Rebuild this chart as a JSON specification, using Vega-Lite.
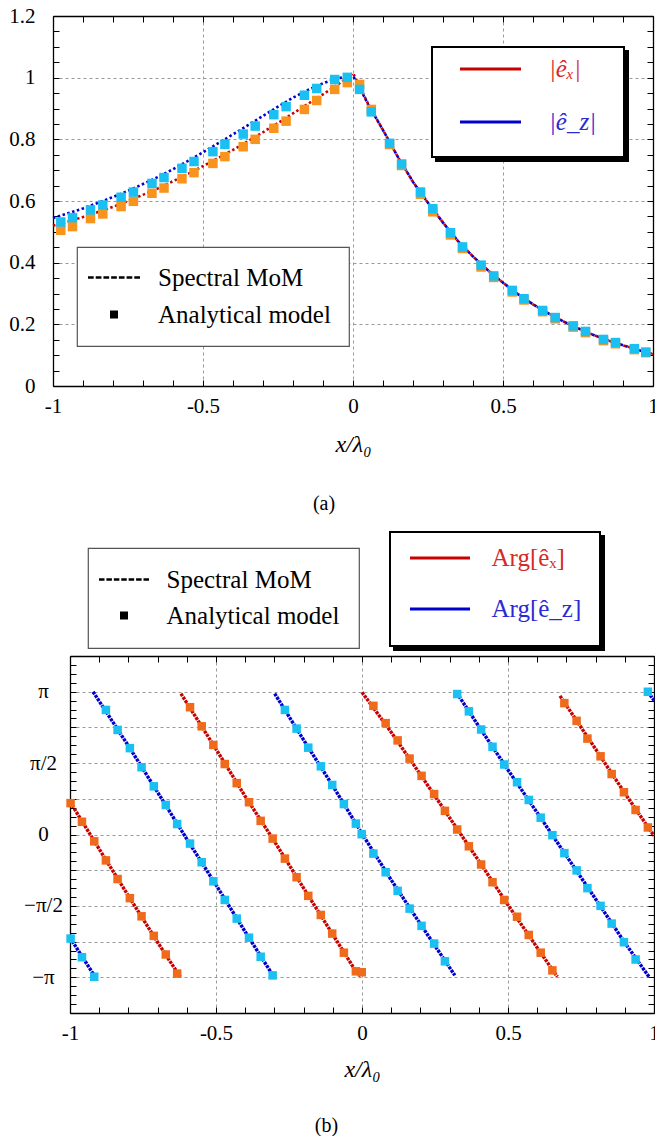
{
  "$schema": "https://vega.github.io/schema/vega-lite/v6.json",
  "padding": {"left": 8, "top": 5, "right": 0, "bottom": 0},
  "autosize": {"type": "pad"},
  "background": "white",
  "spacing": 17,
  "datasets": {
    "topLines": [
      {"comp": "|êₓ|", "x": -1, "y": 0.52}, {"comp": "|êₓ|", "x": -0.95, "y": 0.533}, {"comp": "|êₓ|", "x": -0.9, "y": 0.548}, {"comp": "|êₓ|", "x": -0.85, "y": 0.564}, {"comp": "|êₓ|", "x": -0.8, "y": 0.581}, {"comp": "|êₓ|", "x": -0.75, "y": 0.6}, {"comp": "|êₓ|", "x": -0.7, "y": 0.62}, {"comp": "|êₓ|", "x": -0.65, "y": 0.641}, {"comp": "|êₓ|", "x": -0.6, "y": 0.664}, {"comp": "|êₓ|", "x": -0.55, "y": 0.688}, {"comp": "|êₓ|", "x": -0.5, "y": 0.713}, {"comp": "|êₓ|", "x": -0.45, "y": 0.739}, {"comp": "|êₓ|", "x": -0.4, "y": 0.766}, {"comp": "|êₓ|", "x": -0.35, "y": 0.794}, {"comp": "|êₓ|", "x": -0.3, "y": 0.823}, {"comp": "|êₓ|", "x": -0.25, "y": 0.853}, {"comp": "|êₓ|", "x": -0.2, "y": 0.884}, {"comp": "|êₓ|", "x": -0.15, "y": 0.915}, {"comp": "|êₓ|", "x": -0.1, "y": 0.946}, {"comp": "|êₓ|", "x": -0.05, "y": 0.978}, {"comp": "|êₓ|", "x": 0, "y": 1.015},
      {"comp": "|êₓ|", "x": 0.025, "y": 0.965}, {"comp": "|êₓ|", "x": 0.05, "y": 0.916}, {"comp": "|êₓ|", "x": 0.1, "y": 0.83}, {"comp": "|êₓ|", "x": 0.15, "y": 0.742}, {"comp": "|êₓ|", "x": 0.2, "y": 0.662}, {"comp": "|êₓ|", "x": 0.25, "y": 0.594}, {"comp": "|êₓ|", "x": 0.3, "y": 0.53}, {"comp": "|êₓ|", "x": 0.35, "y": 0.47}, {"comp": "|êₓ|", "x": 0.4, "y": 0.42}, {"comp": "|êₓ|", "x": 0.45, "y": 0.375}, {"comp": "|êₓ|", "x": 0.5, "y": 0.335}, {"comp": "|êₓ|", "x": 0.55, "y": 0.298}, {"comp": "|êₓ|", "x": 0.6, "y": 0.265}, {"comp": "|êₓ|", "x": 0.65, "y": 0.236}, {"comp": "|êₓ|", "x": 0.7, "y": 0.21}, {"comp": "|êₓ|", "x": 0.75, "y": 0.187}, {"comp": "|êₓ|", "x": 0.8, "y": 0.166}, {"comp": "|êₓ|", "x": 0.85, "y": 0.148}, {"comp": "|êₓ|", "x": 0.9, "y": 0.132}, {"comp": "|êₓ|", "x": 0.95, "y": 0.117}, {"comp": "|êₓ|", "x": 1, "y": 0.103},
      {"comp": "|ê_z|", "x": -1, "y": 0.545}, {"comp": "|ê_z|", "x": -0.95, "y": 0.56}, {"comp": "|ê_z|", "x": -0.9, "y": 0.576}, {"comp": "|ê_z|", "x": -0.85, "y": 0.594}, {"comp": "|ê_z|", "x": -0.8, "y": 0.613}, {"comp": "|ê_z|", "x": -0.75, "y": 0.633}, {"comp": "|ê_z|", "x": -0.7, "y": 0.655}, {"comp": "|ê_z|", "x": -0.65, "y": 0.678}, {"comp": "|ê_z|", "x": -0.6, "y": 0.703}, {"comp": "|ê_z|", "x": -0.55, "y": 0.73}, {"comp": "|ê_z|", "x": -0.5, "y": 0.758}, {"comp": "|ê_z|", "x": -0.45, "y": 0.787}, {"comp": "|ê_z|", "x": -0.4, "y": 0.816}, {"comp": "|ê_z|", "x": -0.35, "y": 0.846}, {"comp": "|ê_z|", "x": -0.3, "y": 0.876}, {"comp": "|ê_z|", "x": -0.25, "y": 0.906}, {"comp": "|ê_z|", "x": -0.2, "y": 0.935}, {"comp": "|ê_z|", "x": -0.15, "y": 0.96}, {"comp": "|ê_z|", "x": -0.1, "y": 0.982}, {"comp": "|ê_z|", "x": -0.05, "y": 0.998}, {"comp": "|ê_z|", "x": 0, "y": 1.006},
      {"comp": "|ê_z|", "x": 0.025, "y": 0.962}, {"comp": "|ê_z|", "x": 0.05, "y": 0.914}, {"comp": "|ê_z|", "x": 0.1, "y": 0.83}, {"comp": "|ê_z|", "x": 0.15, "y": 0.742}, {"comp": "|ê_z|", "x": 0.2, "y": 0.662}, {"comp": "|ê_z|", "x": 0.25, "y": 0.594}, {"comp": "|ê_z|", "x": 0.3, "y": 0.53}, {"comp": "|ê_z|", "x": 0.35, "y": 0.47}, {"comp": "|ê_z|", "x": 0.4, "y": 0.42}, {"comp": "|ê_z|", "x": 0.45, "y": 0.375}, {"comp": "|ê_z|", "x": 0.5, "y": 0.335}, {"comp": "|ê_z|", "x": 0.55, "y": 0.298}, {"comp": "|ê_z|", "x": 0.6, "y": 0.265}, {"comp": "|ê_z|", "x": 0.65, "y": 0.236}, {"comp": "|ê_z|", "x": 0.7, "y": 0.21}, {"comp": "|ê_z|", "x": 0.75, "y": 0.187}, {"comp": "|ê_z|", "x": 0.8, "y": 0.166}, {"comp": "|ê_z|", "x": 0.85, "y": 0.148}, {"comp": "|ê_z|", "x": 0.9, "y": 0.132}, {"comp": "|ê_z|", "x": 0.95, "y": 0.117}, {"comp": "|ê_z|", "x": 1, "y": 0.103}
    ],
    "topPts": [
      {"comp": "|êₓ|", "model": "Analytical model", "x": -0.974, "y": 0.505}, {"comp": "|êₓ|", "model": "Analytical model", "x": -0.935, "y": 0.517}, {"comp": "|êₓ|", "model": "Analytical model", "x": -0.875, "y": 0.543}, {"comp": "|êₓ|", "model": "Analytical model", "x": -0.834, "y": 0.558}, {"comp": "|êₓ|", "model": "Analytical model", "x": -0.773, "y": 0.582}, {"comp": "|êₓ|", "model": "Analytical model", "x": -0.732, "y": 0.599}, {"comp": "|êₓ|", "model": "Analytical model", "x": -0.67, "y": 0.625}, {"comp": "|êₓ|", "model": "Analytical model", "x": -0.63, "y": 0.642}, {"comp": "|êₓ|", "model": "Analytical model", "x": -0.57, "y": 0.672}, {"comp": "|êₓ|", "model": "Analytical model", "x": -0.53, "y": 0.692},
      {"comp": "|êₓ|", "model": "Analytical model", "x": -0.467, "y": 0.722}, {"comp": "|êₓ|", "model": "Analytical model", "x": -0.427, "y": 0.744}, {"comp": "|êₓ|", "model": "Analytical model", "x": -0.366, "y": 0.776}, {"comp": "|êₓ|", "model": "Analytical model", "x": -0.326, "y": 0.8}, {"comp": "|êₓ|", "model": "Analytical model", "x": -0.264, "y": 0.836}, {"comp": "|êₓ|", "model": "Analytical model", "x": -0.223, "y": 0.859}, {"comp": "|êₓ|", "model": "Analytical model", "x": -0.162, "y": 0.897}, {"comp": "|êₓ|", "model": "Analytical model", "x": -0.121, "y": 0.926}, {"comp": "|êₓ|", "model": "Analytical model", "x": -0.061, "y": 0.962}, {"comp": "|êₓ|", "model": "Analytical model", "x": -0.019, "y": 0.984},
      {"comp": "|êₓ|", "model": "Analytical model", "x": 0.022, "y": 0.978}, {"comp": "|êₓ|", "model": "Analytical model", "x": 0.061, "y": 0.897}, {"comp": "|êₓ|", "model": "Analytical model", "x": 0.122, "y": 0.783}, {"comp": "|êₓ|", "model": "Analytical model", "x": 0.162, "y": 0.715}, {"comp": "|êₓ|", "model": "Analytical model", "x": 0.225, "y": 0.622}, {"comp": "|êₓ|", "model": "Analytical model", "x": 0.266, "y": 0.565}, {"comp": "|êₓ|", "model": "Analytical model", "x": 0.325, "y": 0.49}, {"comp": "|êₓ|", "model": "Analytical model", "x": 0.365, "y": 0.446}, {"comp": "|êₓ|", "model": "Analytical model", "x": 0.427, "y": 0.386}, {"comp": "|êₓ|", "model": "Analytical model", "x": 0.469, "y": 0.352},
      {"comp": "|êₓ|", "model": "Analytical model", "x": 0.531, "y": 0.305}, {"comp": "|êₓ|", "model": "Analytical model", "x": 0.57, "y": 0.279}, {"comp": "|êₓ|", "model": "Analytical model", "x": 0.632, "y": 0.241}, {"comp": "|êₓ|", "model": "Analytical model", "x": 0.674, "y": 0.218}, {"comp": "|êₓ|", "model": "Analytical model", "x": 0.734, "y": 0.191}, {"comp": "|êₓ|", "model": "Analytical model", "x": 0.775, "y": 0.173}, {"comp": "|êₓ|", "model": "Analytical model", "x": 0.835, "y": 0.147}, {"comp": "|êₓ|", "model": "Analytical model", "x": 0.875, "y": 0.137}, {"comp": "|êₓ|", "model": "Analytical model", "x": 0.938, "y": 0.118}, {"comp": "|êₓ|", "model": "Analytical model", "x": 0.976, "y": 0.108},
      {"comp": "|ê_z|", "model": "Analytical model", "x": -0.974, "y": 0.532}, {"comp": "|ê_z|", "model": "Analytical model", "x": -0.935, "y": 0.546}, {"comp": "|ê_z|", "model": "Analytical model", "x": -0.875, "y": 0.571}, {"comp": "|ê_z|", "model": "Analytical model", "x": -0.834, "y": 0.587}, {"comp": "|ê_z|", "model": "Analytical model", "x": -0.773, "y": 0.612}, {"comp": "|ê_z|", "model": "Analytical model", "x": -0.732, "y": 0.629}, {"comp": "|ê_z|", "model": "Analytical model", "x": -0.67, "y": 0.657}, {"comp": "|ê_z|", "model": "Analytical model", "x": -0.63, "y": 0.676}, {"comp": "|ê_z|", "model": "Analytical model", "x": -0.57, "y": 0.706}, {"comp": "|ê_z|", "model": "Analytical model", "x": -0.53, "y": 0.728},
      {"comp": "|ê_z|", "model": "Analytical model", "x": -0.467, "y": 0.76}, {"comp": "|ê_z|", "model": "Analytical model", "x": -0.427, "y": 0.784}, {"comp": "|ê_z|", "model": "Analytical model", "x": -0.366, "y": 0.817}, {"comp": "|ê_z|", "model": "Analytical model", "x": -0.326, "y": 0.843}, {"comp": "|ê_z|", "model": "Analytical model", "x": -0.264, "y": 0.88}, {"comp": "|ê_z|", "model": "Analytical model", "x": -0.223, "y": 0.906}, {"comp": "|ê_z|", "model": "Analytical model", "x": -0.162, "y": 0.943}, {"comp": "|ê_z|", "model": "Analytical model", "x": -0.121, "y": 0.965}, {"comp": "|ê_z|", "model": "Analytical model", "x": -0.061, "y": 0.994}, {"comp": "|ê_z|", "model": "Analytical model", "x": -0.019, "y": 1.001},
      {"comp": "|ê_z|", "model": "Analytical model", "x": 0.022, "y": 0.962}, {"comp": "|ê_z|", "model": "Analytical model", "x": 0.061, "y": 0.889}, {"comp": "|ê_z|", "model": "Analytical model", "x": 0.122, "y": 0.787}, {"comp": "|ê_z|", "model": "Analytical model", "x": 0.162, "y": 0.72}, {"comp": "|ê_z|", "model": "Analytical model", "x": 0.225, "y": 0.629}, {"comp": "|ê_z|", "model": "Analytical model", "x": 0.266, "y": 0.575}, {"comp": "|ê_z|", "model": "Analytical model", "x": 0.325, "y": 0.497}, {"comp": "|ê_z|", "model": "Analytical model", "x": 0.365, "y": 0.451}, {"comp": "|ê_z|", "model": "Analytical model", "x": 0.427, "y": 0.392}, {"comp": "|ê_z|", "model": "Analytical model", "x": 0.469, "y": 0.357},
      {"comp": "|ê_z|", "model": "Analytical model", "x": 0.531, "y": 0.31}, {"comp": "|ê_z|", "model": "Analytical model", "x": 0.57, "y": 0.283}, {"comp": "|ê_z|", "model": "Analytical model", "x": 0.632, "y": 0.245}, {"comp": "|ê_z|", "model": "Analytical model", "x": 0.674, "y": 0.222}, {"comp": "|ê_z|", "model": "Analytical model", "x": 0.734, "y": 0.195}, {"comp": "|ê_z|", "model": "Analytical model", "x": 0.775, "y": 0.177}, {"comp": "|ê_z|", "model": "Analytical model", "x": 0.835, "y": 0.151}, {"comp": "|ê_z|", "model": "Analytical model", "x": 0.875, "y": 0.141}, {"comp": "|ê_z|", "model": "Analytical model", "x": 0.938, "y": 0.121}, {"comp": "|ê_z|", "model": "Analytical model", "x": 0.976, "y": 0.11}
    ],
    "botLines": [
      {"comp": "Arg[êₓ]", "seg": 1, "x": -1, "y": 0.72}, {"comp": "Arg[êₓ]", "seg": 1, "x": -0.9, "y": -0.32}, {"comp": "Arg[êₓ]", "seg": 1, "x": -0.8, "y": -1.35}, {"comp": "Arg[êₓ]", "seg": 1, "x": -0.7, "y": -2.37}, {"comp": "Arg[êₓ]", "seg": 1, "x": -0.622, "y": -3.14},
      {"comp": "Arg[êₓ]", "seg": 2, "x": -0.62, "y": 3.1}, {"comp": "Arg[êₓ]", "seg": 2, "x": -0.5, "y": 1.88}, {"comp": "Arg[êₓ]", "seg": 2, "x": -0.4, "y": 0.84}, {"comp": "Arg[êₓ]", "seg": 2, "x": -0.3, "y": -0.15}, {"comp": "Arg[êₓ]", "seg": 2, "x": -0.2, "y": -1.18}, {"comp": "Arg[êₓ]", "seg": 2, "x": -0.1, "y": -2.2}, {"comp": "Arg[êₓ]", "seg": 2, "x": -0.02, "y": -3.02}, {"comp": "Arg[êₓ]", "seg": 2, "x": -0.003, "y": -3.12},
      {"comp": "Arg[êₓ]", "seg": 3, "x": 0, "y": 3.13}, {"comp": "Arg[êₓ]", "seg": 3, "x": 0.1, "y": 2.25}, {"comp": "Arg[êₓ]", "seg": 3, "x": 0.2, "y": 1.32}, {"comp": "Arg[êₓ]", "seg": 3, "x": 0.3, "y": 0.37}, {"comp": "Arg[êₓ]", "seg": 3, "x": 0.4, "y": -0.58}, {"comp": "Arg[êₓ]", "seg": 3, "x": 0.5, "y": -1.55}, {"comp": "Arg[êₓ]", "seg": 3, "x": 0.6, "y": -2.49}, {"comp": "Arg[êₓ]", "seg": 3, "x": 0.669, "y": -3.13},
      {"comp": "Arg[êₓ]", "seg": 4, "x": 0.678, "y": 3.05}, {"comp": "Arg[êₓ]", "seg": 4, "x": 0.8, "y": 1.88}, {"comp": "Arg[êₓ]", "seg": 4, "x": 0.9, "y": 0.91}, {"comp": "Arg[êₓ]", "seg": 4, "x": 1, "y": -0.03},
      {"comp": "Arg[ê_z]", "seg": 1, "x": -1, "y": -2.27}, {"comp": "Arg[ê_z]", "seg": 1, "x": -0.913, "y": -3.14},
      {"comp": "Arg[ê_z]", "seg": 2, "x": -0.921, "y": 3.14}, {"comp": "Arg[ê_z]", "seg": 2, "x": -0.8, "y": 1.95}, {"comp": "Arg[ê_z]", "seg": 2, "x": -0.7, "y": 0.93}, {"comp": "Arg[ê_z]", "seg": 2, "x": -0.6, "y": -0.1}, {"comp": "Arg[ê_z]", "seg": 2, "x": -0.5, "y": -1.11}, {"comp": "Arg[ê_z]", "seg": 2, "x": -0.4, "y": -2.14}, {"comp": "Arg[ê_z]", "seg": 2, "x": -0.301, "y": -3.14},
      {"comp": "Arg[ê_z]", "seg": 3, "x": -0.299, "y": 3.1}, {"comp": "Arg[ê_z]", "seg": 3, "x": -0.2, "y": 2.08}, {"comp": "Arg[ê_z]", "seg": 3, "x": -0.1, "y": 1.07}, {"comp": "Arg[ê_z]", "seg": 3, "x": 0, "y": 0.02}, {"comp": "Arg[ê_z]", "seg": 3, "x": 0.1, "y": -1.0}, {"comp": "Arg[ê_z]", "seg": 3, "x": 0.2, "y": -1.97}, {"comp": "Arg[ê_z]", "seg": 3, "x": 0.318, "y": -3.1},
      {"comp": "Arg[ê_z]", "seg": 4, "x": 0.324, "y": 3.12}, {"comp": "Arg[ê_z]", "seg": 4, "x": 0.4, "y": 2.38}, {"comp": "Arg[ê_z]", "seg": 4, "x": 0.5, "y": 1.42}, {"comp": "Arg[ê_z]", "seg": 4, "x": 0.6, "y": 0.48}, {"comp": "Arg[ê_z]", "seg": 4, "x": 0.7, "y": -0.47}, {"comp": "Arg[ê_z]", "seg": 4, "x": 0.8, "y": -1.42}, {"comp": "Arg[ê_z]", "seg": 4, "x": 0.9, "y": -2.38}, {"comp": "Arg[ê_z]", "seg": 4, "x": 0.984, "y": -3.14},
      {"comp": "Arg[ê_z]", "seg": 5, "x": 0.979, "y": 3.14}, {"comp": "Arg[ê_z]", "seg": 5, "x": 1, "y": 2.95}
    ],
    "botPts": [
      {"comp": "Arg[êₓ]", "model": "Analytical model", "x": -0.998, "y": 0.69}, {"comp": "Arg[êₓ]", "model": "Analytical model", "x": -0.959, "y": 0.28}, {"comp": "Arg[êₓ]", "model": "Analytical model", "x": -0.917, "y": -0.15}, {"comp": "Arg[êₓ]", "model": "Analytical model", "x": -0.877, "y": -0.57}, {"comp": "Arg[êₓ]", "model": "Analytical model", "x": -0.837, "y": -0.98}, {"comp": "Arg[êₓ]", "model": "Analytical model", "x": -0.795, "y": -1.4}, {"comp": "Arg[êₓ]", "model": "Analytical model", "x": -0.755, "y": -1.8}, {"comp": "Arg[êₓ]", "model": "Analytical model", "x": -0.713, "y": -2.23}, {"comp": "Arg[êₓ]", "model": "Analytical model", "x": -0.672, "y": -2.64}, {"comp": "Arg[êₓ]", "model": "Analytical model", "x": -0.633, "y": -3.06},
      {"comp": "Arg[êₓ]", "model": "Analytical model", "x": -0.589, "y": 2.8}, {"comp": "Arg[êₓ]", "model": "Analytical model", "x": -0.549, "y": 2.38}, {"comp": "Arg[êₓ]", "model": "Analytical model", "x": -0.509, "y": 1.97}, {"comp": "Arg[êₓ]", "model": "Analytical model", "x": -0.47, "y": 1.55}, {"comp": "Arg[êₓ]", "model": "Analytical model", "x": -0.429, "y": 1.13}, {"comp": "Arg[êₓ]", "model": "Analytical model", "x": -0.387, "y": 0.71}, {"comp": "Arg[êₓ]", "model": "Analytical model", "x": -0.347, "y": 0.3}, {"comp": "Arg[êₓ]", "model": "Analytical model", "x": -0.306, "y": -0.09}, {"comp": "Arg[êₓ]", "model": "Analytical model", "x": -0.264, "y": -0.53}, {"comp": "Arg[êₓ]", "model": "Analytical model", "x": -0.224, "y": -0.94},
      {"comp": "Arg[êₓ]", "model": "Analytical model", "x": -0.184, "y": -1.35}, {"comp": "Arg[êₓ]", "model": "Analytical model", "x": -0.141, "y": -1.77}, {"comp": "Arg[êₓ]", "model": "Analytical model", "x": -0.102, "y": -2.18}, {"comp": "Arg[êₓ]", "model": "Analytical model", "x": -0.062, "y": -2.6}, {"comp": "Arg[êₓ]", "model": "Analytical model", "x": -0.021, "y": -3.01}, {"comp": "Arg[êₓ]", "model": "Analytical model", "x": -0.001, "y": -3.03}, {"comp": "Arg[êₓ]", "model": "Analytical model", "x": 0.039, "y": 2.83}, {"comp": "Arg[êₓ]", "model": "Analytical model", "x": 0.081, "y": 2.45}, {"comp": "Arg[êₓ]", "model": "Analytical model", "x": 0.122, "y": 2.07}, {"comp": "Arg[êₓ]", "model": "Analytical model", "x": 0.163, "y": 1.67},
      {"comp": "Arg[êₓ]", "model": "Analytical model", "x": 0.204, "y": 1.29}, {"comp": "Arg[êₓ]", "model": "Analytical model", "x": 0.247, "y": 0.89}, {"comp": "Arg[êₓ]", "model": "Analytical model", "x": 0.284, "y": 0.52}, {"comp": "Arg[êₓ]", "model": "Analytical model", "x": 0.326, "y": 0.11}, {"comp": "Arg[êₓ]", "model": "Analytical model", "x": 0.366, "y": -0.26}, {"comp": "Arg[êₓ]", "model": "Analytical model", "x": 0.408, "y": -0.66}, {"comp": "Arg[êₓ]", "model": "Analytical model", "x": 0.447, "y": -1.05}, {"comp": "Arg[êₓ]", "model": "Analytical model", "x": 0.487, "y": -1.44}, {"comp": "Arg[êₓ]", "model": "Analytical model", "x": 0.531, "y": -1.81}, {"comp": "Arg[êₓ]", "model": "Analytical model", "x": 0.571, "y": -2.21},
      {"comp": "Arg[êₓ]", "model": "Analytical model", "x": 0.612, "y": -2.6}, {"comp": "Arg[êₓ]", "model": "Analytical model", "x": 0.652, "y": -2.99}, {"comp": "Arg[êₓ]", "model": "Analytical model", "x": 0.693, "y": 2.89}, {"comp": "Arg[êₓ]", "model": "Analytical model", "x": 0.735, "y": 2.5}, {"comp": "Arg[êₓ]", "model": "Analytical model", "x": 0.772, "y": 2.11}, {"comp": "Arg[êₓ]", "model": "Analytical model", "x": 0.817, "y": 1.72}, {"comp": "Arg[êₓ]", "model": "Analytical model", "x": 0.855, "y": 1.33}, {"comp": "Arg[êₓ]", "model": "Analytical model", "x": 0.897, "y": 0.93}, {"comp": "Arg[êₓ]", "model": "Analytical model", "x": 0.937, "y": 0.54}, {"comp": "Arg[êₓ]", "model": "Analytical model", "x": 0.979, "y": 0.155},
      {"comp": "Arg[ê_z]", "model": "Analytical model", "x": -0.998, "y": -2.29}, {"comp": "Arg[ê_z]", "model": "Analytical model", "x": -0.959, "y": -2.7}, {"comp": "Arg[ê_z]", "model": "Analytical model", "x": -0.917, "y": -3.13}, {"comp": "Arg[ê_z]", "model": "Analytical model", "x": -0.877, "y": 2.74}, {"comp": "Arg[ê_z]", "model": "Analytical model", "x": -0.837, "y": 2.3}, {"comp": "Arg[ê_z]", "model": "Analytical model", "x": -0.795, "y": 1.9}, {"comp": "Arg[ê_z]", "model": "Analytical model", "x": -0.755, "y": 1.48}, {"comp": "Arg[ê_z]", "model": "Analytical model", "x": -0.713, "y": 1.06}, {"comp": "Arg[ê_z]", "model": "Analytical model", "x": -0.672, "y": 0.65}, {"comp": "Arg[ê_z]", "model": "Analytical model", "x": -0.633, "y": 0.23},
      {"comp": "Arg[ê_z]", "model": "Analytical model", "x": -0.589, "y": -0.2}, {"comp": "Arg[ê_z]", "model": "Analytical model", "x": -0.549, "y": -0.61}, {"comp": "Arg[ê_z]", "model": "Analytical model", "x": -0.509, "y": -1.03}, {"comp": "Arg[ê_z]", "model": "Analytical model", "x": -0.47, "y": -1.44}, {"comp": "Arg[ê_z]", "model": "Analytical model", "x": -0.429, "y": -1.85}, {"comp": "Arg[ê_z]", "model": "Analytical model", "x": -0.387, "y": -2.27}, {"comp": "Arg[ê_z]", "model": "Analytical model", "x": -0.347, "y": -2.69}, {"comp": "Arg[ê_z]", "model": "Analytical model", "x": -0.306, "y": -3.1}, {"comp": "Arg[ê_z]", "model": "Analytical model", "x": -0.264, "y": 2.74}, {"comp": "Arg[ê_z]", "model": "Analytical model", "x": -0.224, "y": 2.33},
      {"comp": "Arg[ê_z]", "model": "Analytical model", "x": -0.184, "y": 1.91}, {"comp": "Arg[ê_z]", "model": "Analytical model", "x": -0.141, "y": 1.5}, {"comp": "Arg[ê_z]", "model": "Analytical model", "x": -0.102, "y": 1.09}, {"comp": "Arg[ê_z]", "model": "Analytical model", "x": -0.062, "y": 0.67}, {"comp": "Arg[ê_z]", "model": "Analytical model", "x": -0.021, "y": 0.24}, {"comp": "Arg[ê_z]", "model": "Analytical model", "x": -0.001, "y": 0.007}, {"comp": "Arg[ê_z]", "model": "Analytical model", "x": 0.039, "y": -0.42}, {"comp": "Arg[ê_z]", "model": "Analytical model", "x": 0.081, "y": -0.83}, {"comp": "Arg[ê_z]", "model": "Analytical model", "x": 0.122, "y": -1.24}, {"comp": "Arg[ê_z]", "model": "Analytical model", "x": 0.163, "y": -1.63},
      {"comp": "Arg[ê_z]", "model": "Analytical model", "x": 0.204, "y": -2.01}, {"comp": "Arg[ê_z]", "model": "Analytical model", "x": 0.247, "y": -2.4}, {"comp": "Arg[ê_z]", "model": "Analytical model", "x": 0.284, "y": -2.79}, {"comp": "Arg[ê_z]", "model": "Analytical model", "x": 0.326, "y": 3.09}, {"comp": "Arg[ê_z]", "model": "Analytical model", "x": 0.366, "y": 2.71}, {"comp": "Arg[ê_z]", "model": "Analytical model", "x": 0.408, "y": 2.31}, {"comp": "Arg[ê_z]", "model": "Analytical model", "x": 0.447, "y": 1.93}, {"comp": "Arg[ê_z]", "model": "Analytical model", "x": 0.487, "y": 1.54}, {"comp": "Arg[ê_z]", "model": "Analytical model", "x": 0.531, "y": 1.15}, {"comp": "Arg[ê_z]", "model": "Analytical model", "x": 0.571, "y": 0.76},
      {"comp": "Arg[ê_z]", "model": "Analytical model", "x": 0.612, "y": 0.37}, {"comp": "Arg[ê_z]", "model": "Analytical model", "x": 0.652, "y": -0.015}, {"comp": "Arg[ê_z]", "model": "Analytical model", "x": 0.693, "y": -0.41}, {"comp": "Arg[ê_z]", "model": "Analytical model", "x": 0.735, "y": -0.79}, {"comp": "Arg[ê_z]", "model": "Analytical model", "x": 0.772, "y": -1.18}, {"comp": "Arg[ê_z]", "model": "Analytical model", "x": 0.817, "y": -1.57}, {"comp": "Arg[ê_z]", "model": "Analytical model", "x": 0.855, "y": -1.96}, {"comp": "Arg[ê_z]", "model": "Analytical model", "x": 0.897, "y": -2.37}, {"comp": "Arg[ê_z]", "model": "Analytical model", "x": 0.937, "y": -2.75}, {"comp": "Arg[ê_z]", "model": "Analytical model", "x": 0.979, "y": 3.14}
    ]
  },
  "vconcat": [
    {
      "width": 600,
      "height": 370,
      "title": {"text": "(a)", "orient": "bottom", "anchor": "middle", "offset": 37, "dx": -29, "font": "Liberation Serif", "fontSize": 20, "fontWeight": "normal", "color": "black"},
      "resolve": {"axis": {"x": "independent", "y": "independent"}},
      "layer": [
        {
          "data": {"name": "topLines"},
          "mark": {"type": "line", "strokeWidth": 2.6, "strokeDash": [2.5, 2.5]},
          "encoding": {
            "x": {"field": "x", "type": "quantitative", "scale": {"domain": [-1, 1], "nice": false, "zero": false},
              "axis": {"orient": "bottom", "values": [-1, -0.9, -0.8, -0.7, -0.6, -0.5, -0.4, -0.3, -0.2, -0.1, 0, 0.1, 0.2, 0.3, 0.4, 0.5, 0.6, 0.7, 0.8, 0.9, 1],
                "labelExpr": "abs(datum.value*2 - round(datum.value*2)) < 1e-6 ? '' + datum.value : ''",
                "labelOverlap": false, "labelFlush": false, "labelPadding": 15.5, "tickSize": -6,
                "grid": true, "gridDash": [3, 3], "gridColor": "#9a9a9a", "gridWidth": 1,
                "gridOpacity": {"condition": {"test": "abs(datum.value*2 - round(datum.value*2)) < 1e-6 && abs(datum.value) < 0.99", "value": 1}, "value": 0},
                "title": "x/λ₀", "titleFontStyle": "italic", "titleFontSize": 24, "titleFontWeight": "normal", "titlePadding": 16}},
            "y": {"field": "y", "type": "quantitative", "scale": {"domain": [0, 1.2], "nice": false, "zero": false},
              "axis": {"orient": "left", "values": [0, 0.05, 0.1, 0.15, 0.2, 0.25, 0.3, 0.35, 0.4, 0.45, 0.5, 0.55, 0.6, 0.65, 0.7, 0.75, 0.8, 0.85, 0.9, 0.95, 1, 1.05, 1.1, 1.15, 1.2],
                "labelExpr": "abs(datum.value*5 - round(datum.value*5)) < 1e-6 ? format(datum.value, '~g') : ''",
                "labelOverlap": false, "labelFlush": false, "labelPadding": 24, "tickSize": -6,
                "grid": true, "gridDash": [3, 3], "gridColor": "#9a9a9a", "gridWidth": 1,
                "gridOpacity": {"condition": {"test": "abs(datum.value*5 - round(datum.value*5)) < 1e-6 && datum.value > 0.01 && datum.value < 1.19", "value": 1}, "value": 0},
                "title": null}},
            "color": {"field": "comp", "type": "nominal", "scale": {"domain": ["|êₓ|", "|ê_z|"], "range": ["#c80000", "#0000cd"]},
              "legend": {"orient": "none", "legendX": 379, "legendY": 31, "title": null, "symbolType": "M-1,0H11.2M28.7,0M0,3.9", "symbolSize": 100, "symbolStrokeWidth": 3, "symbolDash": [1, 0], "symbolOffset": 11, "labelOffset": 71.5, "padding": 9.5, "rowPadding": 15, "labelLimit": 400,
                "labelFont": "Liberation Serif", "labelFontSize": 25, "labelFontStyle": "italic",
                "fillColor": "white", "strokeColor": "black", "zindex": 2,
                "encode": {"legend": {"update": {"strokeWidth": {"value": 2}}}, "labels": {"update": {"fill": {"signal": "datum.value === '|êₓ|' ? '#d42a2a' : '#2a2ad4'"}}}, "symbols": {"update": {"strokeDash": {"value": [1, 0]}}}}}},
            "opacity": {"field": "comp", "type": "ordinal", "sort": "descending", "scale": {"range": [1, 1]},
              "legend": {"orient": "none", "legendX": 383, "legendY": 35, "title": null, "symbolType": "M-1,0H11.2M28.7,0M0,3.9", "symbolSize": 100, "symbolStrokeWidth": 3, "symbolOffset": 11, "labelOffset": 71.5, "padding": 9.5, "rowPadding": 15,
                "labelFont": "Liberation Serif", "labelFontSize": 25, "labelExpr": "''",
                "fillColor": "black", "strokeColor": "black", "symbolOpacity": 0, "zindex": 1,
                "encode": {"legend": {"update": {"strokeWidth": {"value": 2}}}}}}
          }
        },
        {
          "data": {"name": "topPts"},
          "mark": {"type": "point", "filled": true, "size": 298, "strokeWidth": 0, "opacity": 1},
          "encoding": {
            "x": {"field": "x", "type": "quantitative",
              "axis": {"orient": "top", "values": [-1, -0.9, -0.8, -0.7, -0.6, -0.5, -0.4, -0.3, -0.2, -0.1, 0, 0.1, 0.2, 0.3, 0.4, 0.5, 0.6, 0.7, 0.8, 0.9, 1], "labels": false, "grid": false, "title": null, "tickSize": -6}},
            "y": {"field": "y", "type": "quantitative",
              "axis": {"orient": "right", "values": [0, 0.05, 0.1, 0.15, 0.2, 0.25, 0.3, 0.35, 0.4, 0.45, 0.5, 0.55, 0.6, 0.65, 0.7, 0.75, 0.8, 0.85, 0.9, 0.95, 1, 1.05, 1.1, 1.15, 1.2], "labels": false, "grid": false, "title": null, "tickSize": -6}},
            "fill": {"field": "comp", "type": "nominal", "scale": {"domain": ["|êₓ|", "|ê_z|"], "range": ["#f8941d", "#1ac0f2"]}, "legend": null},
            "shape": {"field": "model", "type": "nominal",
              "scale": {"domain": ["Spectral MoM", "Analytical model"], "range": ["M-5.2,0H-4.06M-3.66,0H-2.51M-2.11,0H-0.97M-0.57,0H0.57M0.97,0H2.11M2.51,0H3.66M4.06,0H5.2M39.6,0", "M-0.55,-0.55H0.55V0.55H-0.55Z"]},
              "legend": {"orient": "none", "legendX": 24, "legendY": 231, "title": null, "symbolSize": 100, "symbolStrokeWidth": 2.5, "symbolFillColor": "black", "symbolStrokeColor": "black", "symbolOpacity": 1, "symbolOffset": 6.5,
                "labelOffset": 31.5, "padding": 18, "rowPadding": 11, "labelLimit": 400, "labelFont": "Liberation Serif", "labelFontSize": 25, "labelColor": "black",
                "fillColor": "white", "strokeColor": "#555555", "zindex": 1,
                "encode": {"legend": {"update": {"strokeWidth": {"value": 1.2}}}}}}
          }
        }
      ]
    },
    {
      "width": 601,
      "height": 357,
      "title": {"text": "(b)", "orient": "bottom", "anchor": "middle", "offset": 34, "dx": -27, "font": "Liberation Serif", "fontSize": 20, "fontWeight": "normal", "color": "black"},
      "resolve": {"axis": {"x": "independent", "y": "independent"}},
      "layer": [
        {
          "data": {"name": "botLines"},
          "mark": {"type": "line", "strokeWidth": 3.4, "strokeDash": [3, 1]},
          "encoding": {
            "x": {"field": "x", "type": "quantitative", "scale": {"domain": [-1, 1], "range": [17, 601], "nice": false, "zero": false},
              "axis": {"orient": "bottom", "values": [-1, -0.9, -0.8, -0.7, -0.6, -0.5, -0.4, -0.3, -0.2, -0.1, 0, 0.1, 0.2, 0.3, 0.4, 0.5, 0.6, 0.7, 0.8, 0.9, 1],
                "labelExpr": "abs(datum.value*2 - round(datum.value*2)) < 1e-6 ? '' + datum.value : ''",
                "labelOverlap": false, "labelFlush": false, "labelPadding": 15.5, "tickSize": -6,
                "grid": true, "gridDash": [3, 3], "gridColor": "#9a9a9a", "gridWidth": 1,
                "gridOpacity": {"condition": {"test": "abs(datum.value*2 - round(datum.value*2)) < 1e-6 && abs(datum.value) < 0.99", "value": 1}, "value": 0},
                "title": "x/λ₀", "titleFontStyle": "italic", "titleFontSize": 24, "titleFontWeight": "normal", "titlePadding": 14}},
            "y": {"field": "y", "type": "quantitative", "scale": {"domain": [-3.9269908, 3.9269908], "nice": false, "zero": false},
              "axis": {"orient": "left", "offset": -17,
                "values": [-3.9269908, -3.7306413, -3.5342917, -3.3379422, -3.1415927, -2.9452431, -2.7488936, -2.552544, -2.3561945, -2.1598449, -1.9634954, -1.7671459, -1.5707963, -1.3744468, -1.1780972, -0.9817477, -0.7853982, -0.5890486, -0.3926991, -0.1963495, 0, 0.1963495, 0.3926991, 0.5890486, 0.7853982, 0.9817477, 1.1780972, 1.3744468, 1.5707963, 1.7671459, 1.9634954, 2.1598449, 2.3561945, 2.552544, 2.7488936, 2.9452431, 3.1415927, 3.3379422, 3.5342917, 3.7306413, 3.9269908],
                "labelExpr": "abs(datum.value) < 1e-4 ? '0' : abs(datum.value - PI) < 1e-4 ? 'π' : abs(datum.value + PI) < 1e-4 ? '−π' : abs(datum.value - PI/2) < 1e-4 ? 'π/2' : abs(datum.value + PI/2) < 1e-4 ? '−π/2' : ''",
                "labelAlign": "center", "labelOverlap": false, "labelFlush": false, "labelPadding": 33, "tickSize": -6,
                "grid": true, "gridDash": [3, 3], "gridColor": "#9a9a9a", "gridWidth": 1,
                "gridOpacity": {"condition": {"test": "abs(datum.value*4/PI - round(datum.value*4/PI)) < 1e-4 && abs(datum.value) < 3.9", "value": 1}, "value": 0},
                "title": null}},
            "detail": {"field": "seg", "type": "nominal"},
            "color": {"field": "comp", "type": "nominal", "scale": {"domain": ["Arg[êₓ]", "Arg[ê_z]"], "range": ["#c80000", "#0000cd"]},
              "legend": {"orient": "none", "legendX": 337, "legendY": -124, "title": null, "symbolType": "M-1,0H11M33.1,0M0,3.5", "symbolSize": 100, "symbolStrokeWidth": 3, "symbolDash": [1, 0], "symbolOffset": -1, "labelOffset": 64, "padding": 13.5, "rowPadding": 15, "labelLimit": 400,
                "labelFont": "Liberation Serif", "labelFontSize": 25,
                "fillColor": "white", "strokeColor": "black", "zindex": 2,
                "encode": {"legend": {"update": {"strokeWidth": {"value": 2}}}, "labels": {"update": {"fill": {"signal": "datum.value === 'Arg[êₓ]' ? '#d42a2a' : '#2a2ad4'"}}}, "symbols": {"update": {"strokeDash": {"value": [1, 0]}}}}}},
            "opacity": {"field": "comp", "type": "ordinal", "sort": "descending", "scale": {"range": [1, 1]},
              "legend": {"orient": "none", "legendX": 341, "legendY": -120, "title": null, "symbolType": "M-1,0H11M33.1,0M0,3.5", "symbolSize": 100, "symbolStrokeWidth": 3, "symbolOffset": -1, "labelOffset": 64, "padding": 13.5, "rowPadding": 15,
                "labelFont": "Liberation Serif", "labelFontSize": 25, "labelExpr": "''",
                "fillColor": "black", "strokeColor": "black", "symbolOpacity": 0, "zindex": 1,
                "encode": {"legend": {"update": {"strokeWidth": {"value": 2}}}}}}
          }
        },
        {
          "data": {"name": "botPts"},
          "mark": {"type": "point", "filled": true, "size": 240, "strokeWidth": 0, "opacity": 1},
          "encoding": {
            "x": {"field": "x", "type": "quantitative",
              "axis": {"orient": "top", "values": [-1, -0.9, -0.8, -0.7, -0.6, -0.5, -0.4, -0.3, -0.2, -0.1, 0, 0.1, 0.2, 0.3, 0.4, 0.5, 0.6, 0.7, 0.8, 0.9, 1], "labels": false, "grid": false, "title": null, "tickSize": -6}},
            "y": {"field": "y", "type": "quantitative",
              "axis": {"orient": "right",
                "values": [-3.9269908, -3.7306413, -3.5342917, -3.3379422, -3.1415927, -2.9452431, -2.7488936, -2.552544, -2.3561945, -2.1598449, -1.9634954, -1.7671459, -1.5707963, -1.3744468, -1.1780972, -0.9817477, -0.7853982, -0.5890486, -0.3926991, -0.1963495, 0, 0.1963495, 0.3926991, 0.5890486, 0.7853982, 0.9817477, 1.1780972, 1.3744468, 1.5707963, 1.7671459, 1.9634954, 2.1598449, 2.3561945, 2.552544, 2.7488936, 2.9452431, 3.1415927, 3.3379422, 3.5342917, 3.7306413, 3.9269908],
                "labels": false, "grid": false, "title": null, "tickSize": -6}},
            "fill": {"field": "comp", "type": "nominal", "scale": {"domain": ["Arg[êₓ]", "Arg[ê_z]"], "range": ["#ef6a1b", "#1ac0f2"]}, "legend": null},
            "shape": {"field": "model", "type": "nominal",
              "scale": {"domain": ["Spectral MoM", "Analytical model"], "range": ["M-5,0H-3.9M-3.52,0H-2.42M-2.03,0H-0.93M-0.55,0H0.55M0.93,0H2.03M2.42,0H3.52M3.9,0H5M37.8,0", "M-0.55,-0.55H0.55V0.55H-0.55Z"]},
              "legend": {"orient": "none", "legendX": 35, "legendY": -108, "title": null, "symbolSize": 100, "symbolStrokeWidth": 2.5, "symbolFillColor": "black", "symbolStrokeColor": "black", "symbolOpacity": 1, "symbolOffset": 4.5,
                "labelOffset": 30, "padding": 19, "rowPadding": 10, "labelLimit": 400, "labelFont": "Liberation Serif", "labelFontSize": 25, "labelColor": "black",
                "fillColor": "white", "strokeColor": "#555555", "zindex": 1,
                "encode": {"legend": {"update": {"strokeWidth": {"value": 1.2}}}}}}
          }
        }
      ]
    }
  ],
  "resolve": {
    "scale": {"x": "independent", "y": "independent", "color": "independent", "fill": "independent", "opacity": "independent", "shape": "independent"},
    "legend": {"color": "independent", "fill": "independent", "opacity": "independent", "shape": "independent"}
  },
  "config": {
    "font": "Liberation Serif",
    "view": {"stroke": null},
    "axis": {"domainColor": "black", "domainWidth": 1.3, "tickColor": "black", "tickWidth": 1, "labelColor": "black", "labelFont": "Liberation Serif", "labelFontSize": 21, "titleColor": "black", "titleFont": "Liberation Serif"},
    "legend": {"labelColor": "black", "labelFont": "Liberation Serif"}
  }
}
